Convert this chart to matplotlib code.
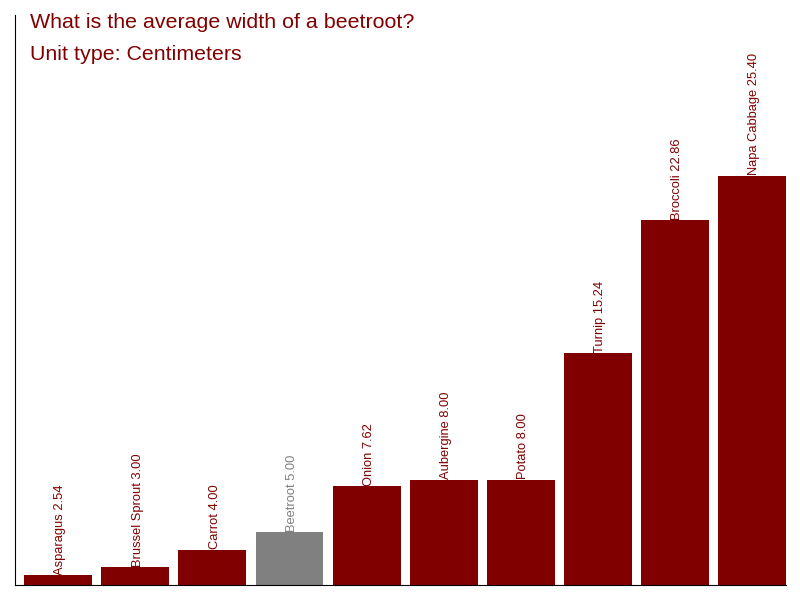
import matplotlib
matplotlib.use('Agg')
import matplotlib.pyplot as plt

plt.rcParams['font.family'] = ['Liberation Sans', 'DejaVu Sans']

# data
vegetables = ['Asparagus', 'Brussel Sprout', 'Carrot', 'Beetroot', 'Onion',
              'Aubergine', 'Potato', 'Turnip', 'Broccoli', 'Napa Cabbage']
widths = [2.54, 3.00, 4.00, 5.00, 7.62, 8.00, 8.00, 15.24, 22.86, 25.40]
highlight = 'Beetroot'

maroon = '#800000'
grey = '#808080'
colors = [grey if v == highlight else maroon for v in vegetables]

fig = plt.figure(figsize=(8, 6), dpi=100)
ax = fig.add_axes([15 / 800, 15 / 600, 771 / 800, 570 / 600])

x = range(len(vegetables))
ax.bar(x, widths, width=0.88, color=colors)

for i, (name, w, c) in enumerate(zip(vegetables, widths, colors)):
    ax.text(i + 0.03, w + 0.03, f'{name} {w:.2f}', rotation=90, ha='center',
            va='bottom', fontsize=9.3, color=c)

ax.set_xlim(-0.56, 9.44)
ax.set_ylim(1.98, 34.6)
ax.set_xticks([])
ax.set_yticks([])
ax.spines['top'].set_visible(False)
ax.spines['right'].set_visible(False)

fig.text(30 / 800, 1 - 23 / 600, 'What is the average width of a beetroot?',
         fontsize=15.4, color=maroon, va='center')
fig.text(30 / 800, 1 - 54 / 600, 'Unit type: Centimeters',
         fontsize=15.4, color=maroon, va='center')

fig.savefig('out.png', dpi=100)
